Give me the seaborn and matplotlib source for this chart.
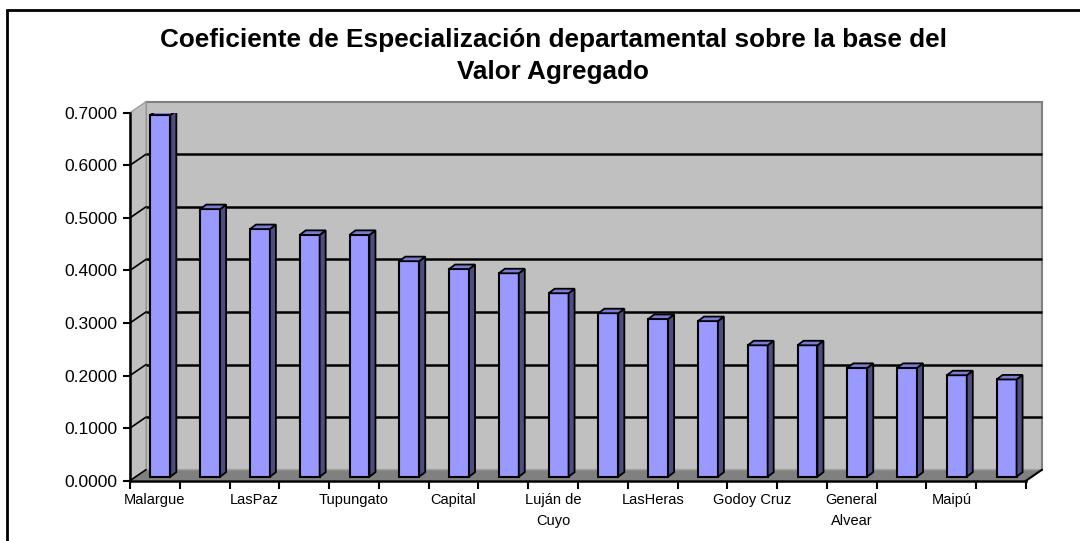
import matplotlib
matplotlib.use("Agg")
import matplotlib.pyplot as plt
from matplotlib.patches import Polygon
import seaborn as sns
import pandas as pd

# Departamentos (only every second name is printed on the axis)
departamentos = ["Malargue", "San Rafael", "LasPaz", "Lavalle", "Tupungato", "Santa Rosa",
                 "Capital", "Junín", "Luján de\nCuyo", "San Carlos", "LasHeras", "Tunuyán",
                 "Godoy Cruz", "Rivadavia", "General\nAlvear", "San Martín", "Maipú", "Guaymallén"]
coeficiente = [0.688, 0.509, 0.471, 0.460, 0.460, 0.410, 0.395, 0.387, 0.349,
               0.311, 0.300, 0.296, 0.250, 0.250, 0.207, 0.207, 0.193, 0.185]
y_ticks = [0.0, 0.1, 0.2, 0.3, 0.4, 0.5, 0.6, 0.7]

df = pd.DataFrame({"Departamento": departamentos, "Coeficiente": coeficiente})

sns.set_style("white", {"text.color": "black", "xtick.color": "black", "ytick.color": "black"})
plt.rcParams["font.family"] = ["Liberation Sans", "DejaVu Sans"]

W, H = 1080, 541
fig = plt.figure(figsize=(W / 100, H / 100), dpi=100)
ax = fig.add_axes([130 / W, (H - 480.7) / H, 896 / W, 368 / H])
ax.set_xlim(-0.5, len(departamentos) - 0.5)
ax.set_ylim(0, 0.7)
ax.patch.set_visible(False)

WALL = (16, 11)    # depth of the 3D box (pixels)
BAR_POS = (5.5, 4)  # bars sit part way into the box
BAR_D = (6, 4.5)    # depth of each column


def shifted(x, y, d):
    px, py = ax.transData.transform((x, y))
    return tuple(ax.transData.inverted().transform((px + d[0], py + d[1])))


x0, x1 = -0.5, len(departamentos) - 0.5
# back wall, side wall, floor
ax.add_patch(Polygon([shifted(x0, 0, WALL), shifted(x1, 0, WALL), shifted(x1, 0.7, WALL), shifted(x0, 0.7, WALL)],
                     closed=True, facecolor="#C0C0C0", edgecolor="#808080", lw=1.5, zorder=0, clip_on=False))
ax.add_patch(Polygon([(x0, 0), shifted(x0, 0, WALL), shifted(x0, 0.7, WALL), (x0, 0.7)],
                     closed=True, facecolor="#C0C0C0", edgecolor="#A0A0A0", lw=1, zorder=0, clip_on=False))
ax.add_patch(Polygon([(x0, 0), (x1, 0), shifted(x1, 0, WALL), shifted(x0, 0, WALL)],
                     closed=True, facecolor="#808080", edgecolor="#A0A0A0", lw=1, zorder=0.5, clip_on=False))

# gridlines on the back wall + diagonals on the side wall
for v in y_ticks[1:-1]:
    a, b = shifted(x0, v, WALL), shifted(x1, v, WALL)
    ax.plot([a[0], b[0]], [a[1], b[1]], color="black", lw=1.8, zorder=0.6,
            solid_capstyle="butt", clip_on=False)
for v in y_ticks[:-1]:
    a = shifted(x0, v, WALL)
    ax.plot([x0, a[0]], [v, a[1]], color="black", lw=1.2, zorder=0.6, clip_on=False)
a = shifted(x1, 0, WALL)
ax.plot([x1, a[0]], [0, a[1]], color="black", lw=1.5, zorder=3, clip_on=False)

sns.barplot(data=df, x="Departamento", y="Coeficiente", color="#9999FF", width=0.4,
            edgecolor="black", linewidth=1.5, saturation=1, ax=ax, zorder=2)

for p in ax.patches:
    if not hasattr(p, "get_width") or p.get_zorder() != 2:
        continue
    bx, bw, bh = p.get_x(), p.get_width(), p.get_height()
    nx, ny = shifted(bx, 0, BAR_POS)
    rx, top = shifted(bx + bw, bh, BAR_POS)
    p.set_xy((nx, ny))
    p.set_width(rx - nx)
    p.set_height(top - ny)
    side = [(rx, ny), shifted(rx, ny, BAR_D), shifted(rx, top, BAR_D), (rx, top)]
    lid = [(nx, top), (rx, top), shifted(rx, top, BAR_D), shifted(nx, top, BAR_D)]
    ax.add_patch(Polygon(side, closed=True, facecolor="#4D4D80", edgecolor="black", lw=1.3, zorder=2.1))
    ax.add_patch(Polygon(lid, closed=True, facecolor="#7B7BD6", edgecolor="black", lw=1.3, zorder=2.1))

# axes
for s in ["top", "right"]:
    ax.spines[s].set_visible(False)
for s in ["left", "bottom"]:
    ax.spines[s].set_linewidth(1.8)
    ax.spines[s].set_color("black")
    ax.spines[s].set_zorder(3)

ax.set_yticks(y_ticks)
ax.set_yticklabels([f"{v:.4f}" for v in y_ticks], fontsize=12.5)
ax.tick_params(axis="y", direction="out", length=5, width=1.5, pad=4, left=True, colors="black")

ax.set_xticks(range(len(departamentos)))
ax.set_xticklabels([d if i % 2 == 0 else "" for i, d in enumerate(departamentos)],
                   fontsize=10.5, linespacing=1.6, va="top")
ax.set_xticks([i - 0.5 for i in range(len(departamentos) + 1)], minor=True)
ax.tick_params(axis="x", which="major", length=0, pad=9, colors="black")
ax.tick_params(axis="x", which="minor", direction="out", length=6, width=1.5, bottom=True, colors="black")
ax.set_xlabel("")
ax.set_ylabel("")

fig.text(553 / W, 1 - 56 / H, "Coeficiente de Especialización departamental sobre la base del\nValor Agregado",
         ha="center", va="center", fontsize=18.8, fontweight="bold", linespacing=1.4, color="black")

# chart border (left and top visible)
fig.add_artist(plt.Line2D([7 / W, 7 / W], [0, 1 - 10 / H], color="black", lw=2))
fig.add_artist(plt.Line2D([7 / W, 1], [1 - 10 / H, 1 - 10 / H], color="black", lw=2))

fig.savefig("out.png", dpi=100)
